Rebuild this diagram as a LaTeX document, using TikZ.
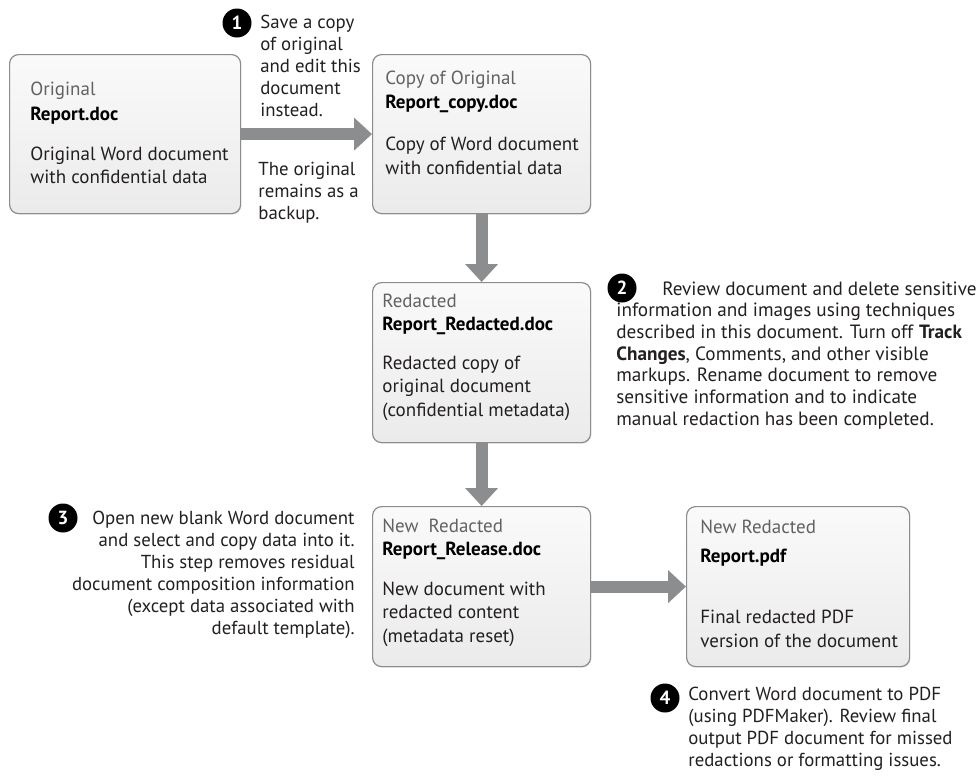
\documentclass[tikz,border=0pt]{standalone}
\usepackage{fontspec}
\setmainfont{PT Sans}
\usetikzlibrary{arrows.meta,shadows}

\definecolor{boxline}{RGB}{140,140,142}
\definecolor{arrowgray}{RGB}{140,141,143}
\definecolor{labelgray}{RGB}{98,98,100}
\definecolor{ink}{RGB}{35,31,32}

\tikzset{every picture/.style={line width=0.75pt}}
\tikzset{
  docbox/.style={draw=boxline, line width=1.2pt, rounded corners=9pt,
    top color=white!98!black, bottom color=white!92!black,
    drop shadow={opacity=0.16, shadow xshift=0.8pt, shadow yshift=-1.2pt},
    anchor=north west, inner sep=0pt},
  fatarrow/.style={draw=arrowgray, line width=12pt,
    -{Triangle[width=32pt,length=18pt]}},
  stepdot/.style={circle, fill=black, text=white, inner sep=0pt,
    minimum size=29pt, font=\fontsize{19}{19}\selectfont\bfseries},
  boxlab/.style={anchor=base west, inner sep=0pt, text=labelgray,
    font=\fontsize{19}{23.5}\selectfont},
  boxfile/.style={anchor=base west, inner sep=0pt, text=black,
    font=\fontsize{19}{23.5}\selectfont\bfseries},
  % multi-line nodes: the base anchor sits on the last line
  boxtxt/.style={anchor=base west, inner sep=0pt, text=ink, align=left,
    font=\fontsize{19}{23.5}\selectfont},
  steptxt/.style={anchor=base west, inner sep=0pt, text=ink, align=left,
    font=\fontsize{18.8}{22}\selectfont},
}

\begin{document}
\begin{tikzpicture}[x=1pt,y=1pt,yscale=-1]
  \useasboundingbox (0,0) rectangle (976,777);

  % Document boxes
  \node[docbox, minimum width=231pt, minimum height=159pt] (orig) at (9,54) {};
  \node[docbox, minimum width=218pt, minimum height=159pt] (copy) at (372,54) {};
  \node[docbox, minimum width=218pt, minimum height=160pt] (redact) at (372,282) {};
  \node[docbox, minimum width=218pt, minimum height=160pt] (release) at (372,506) {};
  \node[docbox, minimum width=223pt, minimum height=160pt] (pdf) at (686,506) {};

  % Arrows
  \draw[fatarrow] (orig.east) -- (copy.west);
  \draw[fatarrow] (copy.south) -- (redact.north);
  \draw[fatarrow] (redact.south) -- (release.north);
  \draw[fatarrow] (release.east) -- (pdf.west);

  % Text in boxes
  \node[boxlab] (orig-lab) at (30,95) {Original};
  \node[boxfile] (orig-file) at (30,120) {Report.doc};
  \node[boxtxt] (orig-txt) at (30,183.5) {Original Word document\\with confidential data};

  \node[boxlab] (copy-lab) at (385,84) {Copy of Original};
  \node[boxfile] (copy-file) at (385,108) {Report\_copy.doc};
  \node[boxtxt] (copy-txt) at (385,174) {Copy of Word document\\with confidential data};

  \node[boxlab] (redact-lab) at (382,307) {Redacted};
  \node[boxfile] (redact-file) at (382,330) {Report\_Redacted.doc};
  \node[boxtxt] (redact-txt) at (382,416) {Redacted copy of\\original document\\(confidential metadata)};

  \node[boxlab] (release-lab) at (382,532) {New\ \ Redacted};
  \node[boxfile] (release-file) at (382,555) {Report\_Release.doc};
  \node[boxtxt] (release-txt) at (382,642) {New document with\\redacted content\\(metadata reset)};

  \node[boxlab] (pdf-lab) at (700,533) {New Redacted};
  \node[boxfile] (pdf-file) at (700,562) {Report.pdf};
  \node[boxtxt] (pdf-txt) at (700,647) {Final redacted PDF\\version of the document};

  % Steps
  \node[stepdot] (s1) at (237,23) {1};
  \node[steptxt] (s1-txt) at (260,116) {Save a copy\\of original\\and edit this\\document\\instead.};
  \node[steptxt] (s1-note) at (258,219) {The original\\remains as a\\backup.};

  \node[stepdot] (s2) at (622,288) {2};
  \node[steptxt, font=\fontsize{19.2}{21.7}\selectfont] (s2-txt) at (616,425.2) {\hspace*{46pt}Review document and delete sensitive\\information and images using techniques\\described in this document. Turn off \textbf{Track}\\\textbf{Changes}, Comments, and other visible\\markups. Rename document to remove\\sensitive information and to indicate\\manual redaction has been completed.};

  \node[stepdot] (s3) at (63,518) {3};
  \node[steptxt, anchor=base east, align=right] (s3-txt) at (355,634) {Open new blank Word document\\and select and copy data into it.\\This step removes residual\hspace*{5pt}\\document composition information\\(except data associated with\\default template).};

  \node[stepdot] (s4) at (665,698) {4};
  \node[steptxt, font=\fontsize{18.8}{21.7}\selectfont] (s4-txt) at (688,766) {Convert Word document to PDF\\(using PDFMaker). Review final\\output PDF document for missed\\redactions or formatting issues.};
\end{tikzpicture}
\end{document}
